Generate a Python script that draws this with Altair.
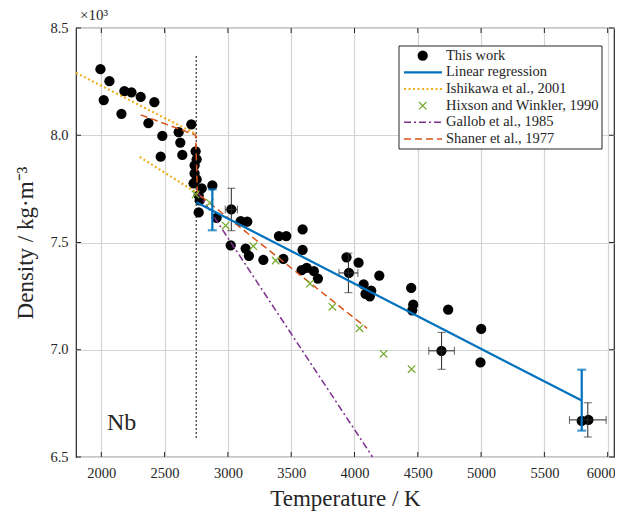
import altair as alt
import pandas as pd

# ---------------- data ----------------
work_T = [1993, 2019, 2064, 2159, 2182, 2238, 2311, 2372, 2419, 2469, 2482, 2611, 2624, 2640, 2711,
          2745, 2753, 2737, 2737, 2753, 2729, 2793, 2769, 2777, 2769,
          2877, 2911, 3027, 3101, 3153, 3022, 3140, 3166, 3280, 3403, 3438, 3461, 3590, 3590, 3582,
          3622, 3679, 3711, 3937, 3956, 4032, 4196, 4072, 4132, 4087, 4121, 4448, 4464, 4456,
          4740, 5001, 4687, 4995, 5795, 5848]
work_rho = [8.308, 8.164, 8.252, 8.100, 8.206, 8.200, 8.179, 8.056, 8.154, 7.900, 7.997, 8.014, 7.966, 7.908, 8.051,
            7.925, 7.888, 7.860, 7.822, 7.794, 7.776, 7.752, 7.720, 7.696, 7.640,
            7.766, 7.615, 7.654, 7.600, 7.597, 7.487, 7.472, 7.438, 7.419, 7.530, 7.424, 7.530, 7.561, 7.466, 7.371,
            7.382, 7.366, 7.332, 7.431, 7.358, 7.406, 7.346, 7.305, 7.276, 7.260, 7.249, 7.288, 7.210, 7.184,
            7.187, 7.097, 6.995, 6.941, 6.668, 6.673]

eb_T = [3027, 3952, 4688, 5843]
eb_rho = [7.654, 7.358, 6.995, 6.673]
eb_dT = [48, 75, 101, 145]
eb_drho = [0.099, 0.092, 0.086, 0.080]

reg_T = [2750, 5795]
reg_rho = [7.688, 6.763]
reg_eb_T = [2877, 5795]
reg_eb_lo = [7.557, 6.623]
reg_eb_hi = [7.748, 6.907]

ish_sol_T = [1800, 2745]
ish_sol_rho = [8.291, 8.007]
ish_liq_T = [2303, 2785]
ish_liq_rho = [7.899, 7.720]

hix_T = [2745, 2858, 2982, 3201, 3377, 3648, 3825, 4040, 4230, 4451]
hix_rho = [7.724, 7.685, 7.579, 7.483, 7.416, 7.308, 7.200, 7.100, 6.981, 6.910]

gal_T = [2761, 4143]
gal_rho = [7.735, 6.500]

sha_T = [2311, 2745, 2759, 4100]
sha_rho = [8.095, 8.001, 7.729, 7.100]

melt_T = [2750, 2750]
melt_rho = [6.59, 8.375]

tick_x = [2000, 2500, 3000, 3500, 4000, 4500, 5000, 5500, 6000]
tick_y = [6.5, 7.0, 7.5, 8.0, 8.5]

legend_labels = ["This work", "Linear regression", "Ishikawa et al., 2001",
                 "Hixson and Winkler, 1990", "Gallob et al., 1985", "Shaner et al., 1977"]

# ---------------- styling ----------------
W, H = 538, 429
FONT = "Liberation Serif"
BLUE = "#0072BD"
ORANGE = "#EDB120"
GREEN = "#77AC30"
PURPLE = "#7E2F8E"
RED = "#D95319"
INK = "#262626"

XS = alt.Scale(domain=[1800, 6050], nice=False, zero=False)
YS = alt.Scale(domain=[6.5, 8.5], nice=False, zero=False)
xaxis = alt.Axis(values=tick_x, format="d", title="Temperature / K", grid=True, ticks=False,
                 domain=False, labelPadding=9, titlePadding=8,
                 labelOffset={"condition": {"test": "datum.value === 6000", "value": -7}, "value": 0})
yaxis = alt.Axis(values=tick_y, format=".1f", title="Density / kg·m⁻³", grid=True, ticks=False,
                 domain=False, labelPadding=8, titlePadding=12)


def X(f="T"):
    return alt.X(f"{f}:Q", scale=XS, axis=xaxis)


def Y(f="rho"):
    return alt.Y(f"{f}:Q", scale=YS, axis=yaxis)


def df(**kw):
    return pd.DataFrame(kw)


layers = []

# inward ticks
tx = df(T=tick_x)
ty = df(rho=tick_y)
layers.append(alt.Chart(tx).mark_rule(color=INK, strokeWidth=1).encode(x=X(), y=alt.value(H), y2=alt.value(H - 5)))
layers.append(alt.Chart(tx).mark_rule(color=INK, strokeWidth=1).encode(x=X(), y=alt.value(0), y2=alt.value(5)))
layers.append(alt.Chart(ty).mark_rule(color=INK, strokeWidth=1).encode(y=Y(), x=alt.value(0), x2=alt.value(5)))
layers.append(alt.Chart(ty).mark_rule(color=INK, strokeWidth=1).encode(y=Y(), x=alt.value(W), x2=alt.value(W - 5)))

# melting line
layers.append(alt.Chart(df(T=melt_T, rho=melt_rho)).mark_line(color="black", strokeWidth=1.3, strokeDash=[1.5, 2.5])
              .encode(x=X(), y=Y()))

# this work points
layers.append(alt.Chart(df(T=work_T, rho=work_rho)).mark_circle(size=105, color="black", opacity=1)
              .encode(x=X(), y=Y()))

# black error bars
ebd = df(T=eb_T, rho=eb_rho, dT=eb_dT, drho=eb_drho)
ebd["lo"] = ebd["rho"] - ebd["drho"]
ebd["hi"] = ebd["rho"] + ebd["drho"]
ebd["Tl"] = ebd["T"] - ebd["dT"]
ebd["Th"] = ebd["T"] + ebd["dT"]
layers.append(alt.Chart(ebd).mark_rule(color=INK, strokeWidth=1).encode(x=X(), y=Y("lo"), y2="hi:Q"))
layers.append(alt.Chart(ebd).mark_rule(color=INK, strokeWidth=1).encode(x=X("Tl"), x2="Th:Q", y=Y()))
for c in ["lo", "hi"]:
    layers.append(alt.Chart(ebd).mark_tick(color=INK, orient="horizontal", size=8, thickness=1)
                  .encode(x=X(), y=Y(c)))
for c in ["Tl", "Th"]:
    layers.append(alt.Chart(ebd).mark_tick(color=INK, orient="vertical", size=8, thickness=1)
                  .encode(x=X(c), y=Y()))

# reference lines
layers.append(alt.Chart(df(T=ish_sol_T, rho=ish_sol_rho)).mark_line(color=ORANGE, strokeWidth=2.2, strokeDash=[2, 2.5])
              .encode(x=X(), y=Y()))
layers.append(alt.Chart(df(T=ish_liq_T, rho=ish_liq_rho)).mark_line(color=ORANGE, strokeWidth=2.2, strokeDash=[2, 2.5])
              .encode(x=X(), y=Y()))
layers.append(alt.Chart(df(T=gal_T, rho=gal_rho)).mark_line(color=PURPLE, strokeWidth=1.5, strokeDash=[7, 3, 2, 3])
              .encode(x=X(), y=Y()))
layers.append(alt.Chart(df(T=sha_T, rho=sha_rho)).mark_line(color=RED, strokeWidth=1.5, strokeDash=[7, 4])
              .encode(x=X(), y=Y()))
XSHAPE = "M-1,-1L1,1M-1,1L1,-1"
layers.append(alt.Chart(df(T=hix_T, rho=hix_rho)).mark_point(shape=XSHAPE, size=55, filled=False, color=GREEN,
                                                            strokeWidth=1.3, opacity=1)
              .encode(x=X(), y=Y()))

# regression
layers.append(alt.Chart(df(T=reg_T, rho=reg_rho)).mark_line(color=BLUE, strokeWidth=2.2).encode(x=X(), y=Y()))
rebd = df(T=reg_eb_T, lo=reg_eb_lo, hi=reg_eb_hi)
layers.append(alt.Chart(rebd).mark_rule(color=BLUE, strokeWidth=2.2).encode(x=X(), y=Y("lo"), y2="hi:Q"))
for c in ["lo", "hi"]:
    layers.append(alt.Chart(rebd).mark_tick(color=BLUE, orient="horizontal", size=9, thickness=2.2)
                  .encode(x=X(), y=Y(c)))

# annotations
one = df(a=[0])
layers.append(alt.Chart(one).mark_text(text="×10³", font=FONT, fontSize=15, align="left", baseline="middle",
                                       color=INK).encode(x=alt.value(4), y=alt.value(-13)))
layers.append(alt.Chart(one).mark_text(text="Nb", font=FONT, fontSize=24, align="left", baseline="middle",
                                       color=INK).encode(x=alt.value(31), y=alt.value(395)))

# legend
LX0, LX1, LY0, LY1 = 323, 526, 18, 121
layers.append(alt.Chart(one).mark_rect(fill="white", stroke=INK, strokeWidth=1)
              .encode(x=alt.value(LX0), x2=alt.value(LX1), y=alt.value(LY0), y2=alt.value(LY1)))
rows = [27.7, 44.3, 61, 77.7, 94.3, 111]
sx0, sx1, smid, tx0 = 328, 366, 346.7, 370
layers.append(alt.Chart(one).mark_circle(size=105, color="black", opacity=1)
              .encode(x=alt.value(smid), y=alt.value(rows[0])))
layers.append(alt.Chart(one).mark_rule(color=BLUE, strokeWidth=2.2)
              .encode(x=alt.value(sx0), x2=alt.value(sx1), y=alt.value(rows[1])))
layers.append(alt.Chart(one).mark_rule(color=ORANGE, strokeWidth=2.2, strokeDash=[2, 2.5])
              .encode(x=alt.value(sx0), x2=alt.value(sx1), y=alt.value(rows[2])))
layers.append(alt.Chart(one).mark_point(shape=XSHAPE, size=55, filled=False, color=GREEN, strokeWidth=1.3, opacity=1)
              .encode(x=alt.value(smid), y=alt.value(rows[3])))
layers.append(alt.Chart(one).mark_rule(color=PURPLE, strokeWidth=1.5, strokeDash=[7, 3, 2, 3])
              .encode(x=alt.value(sx0), x2=alt.value(sx1), y=alt.value(rows[4])))
layers.append(alt.Chart(one).mark_rule(color=RED, strokeWidth=1.5, strokeDash=[7, 4])
              .encode(x=alt.value(sx0), x2=alt.value(sx1), y=alt.value(rows[5])))
for lab, yy in zip(legend_labels, rows):
    layers.append(alt.Chart(one).mark_text(text=lab, font=FONT, fontSize=14.5, align="left", baseline="middle",
                                           color=INK).encode(x=alt.value(tx0), y=alt.value(yy)))

chart = (alt.layer(*layers)
         .properties(width=W, height=H, autosize=alt.AutoSizeParams(type="none"),
                     padding={"left": 68, "top": 20, "right": 1, "bottom": 61})
         .configure(font=FONT)
         .configure_view(stroke=INK, strokeWidth=1.2)
         .configure_axis(labelFont=FONT, labelFontSize=14.5, labelColor=INK, titleFont=FONT, titleFontSize=23,
                         titleFontWeight="normal", titleColor=INK, gridColor="#d4d4d4", gridWidth=1.2))

chart.save("out.html", embed_options={"renderer": "svg", "actions": False})
